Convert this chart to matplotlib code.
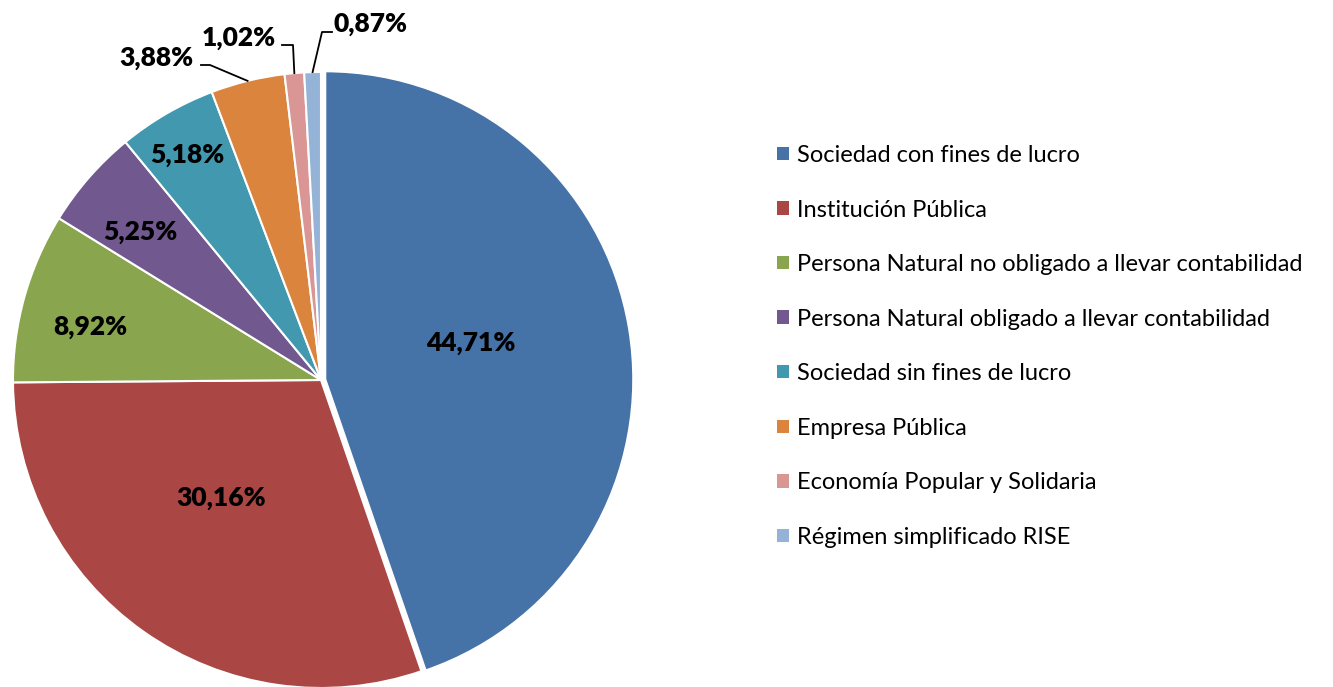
import numpy as np
import matplotlib
matplotlib.use("Agg")
import matplotlib.pyplot as plt
from matplotlib.patches import Patch

# chart data
categories = [
    "Sociedad con fines de lucro",
    "Institución Pública",
    "Persona Natural no obligado a llevar contabilidad",
    "Persona Natural obligado a llevar contabilidad",
    "Sociedad sin fines de lucro",
    "Empresa Pública",
    "Economía Popular y Solidaria",
    "Régimen simplificado RISE",
]
values = [44.71, 30.16, 8.92, 5.25, 5.18, 3.88, 1.02, 0.87]
labels = ["44,71%", "30,16%", "8,92%", "5,25%", "5,18%", "3,88%", "1,02%", "0,87%"]
colors = ["#4572A7", "#AA4643", "#89A54E", "#71588F",
          "#4198AF", "#DB843D", "#D99694", "#95B3D7"]

plt.rcParams['font.family'] = ['Lato', 'DejaVu Sans']

W, H = 1333, 687
fig = plt.figure(figsize=(W / 100, H / 100), dpi=100)
ax = fig.add_axes([0, 0, 1, 1])

cx, cy, R = 321, 380, 308  # pie centre / radius in pixels
def px(x, y):
    return (x - cx) / R, (cy - y) / R

wedges, _ = ax.pie(values, colors=colors, startangle=90, counterclock=False,
                   explode=[0.014] + [0] * 7,
                   wedgeprops=dict(edgecolor="white", linewidth=1.5))
ax.set_aspect('auto')
ax.set_xlim(-cx / R, (W - cx) / R)
ax.set_ylim(-(H - cy) / R, cy / R)
ax.axis('off')

# inside labels (radius, angle tweak in degrees)
inner_r = [0.5, 0.5, 0.77, 0.76, 0.85]
inner_da = [4.5, -5, 2.6, 1.8, 0.5]
for i, w in enumerate(wedges[:5]):
    ang = np.deg2rad((w.theta1 + w.theta2) / 2 + inner_da[i])
    ax.text(inner_r[i] * np.cos(ang), inner_r[i] * np.sin(ang), labels[i],
            ha='center', va='center', fontsize=19, fontweight='heavy', color='black')

# outside labels: leader elbow, line end, text anchor (pixels)
outer = [((210, 65), (201, 65), (193, 58), 'right'),
         ((293, 45), (282, 45), (276, 38), 'right'),
         ((322, 32), (332, 32), (334, 24), 'left')]
for (elbow, end, tpos, ha), w, lab in zip(outer, wedges[5:], labels[5:]):
    ang = np.deg2rad((w.theta1 + w.theta2) / 2)
    sx, sy = np.cos(ang), np.sin(ang)
    ex, ey = px(*elbow)
    lx, ly = px(*end)
    ax.plot([sx, ex, lx], [sy, ey, ly], color='black', lw=1.3)
    tx, ty = px(*tpos)
    ax.text(tx, ty, lab, ha=ha, va='center', fontsize=19,
            fontweight='heavy', color='black')

handles = [Patch(facecolor=c, edgecolor='none') for c in colors]
fig.legend(handles, categories, loc='upper left',
           bbox_to_anchor=(777 / W, (H - 145) / H), frameon=False,
           fontsize=17, handlelength=0.5, handleheight=0.5,
           handletextpad=0.35, labelspacing=1.42, borderpad=0, borderaxespad=0)

fig.savefig("out.png", dpi=100)
